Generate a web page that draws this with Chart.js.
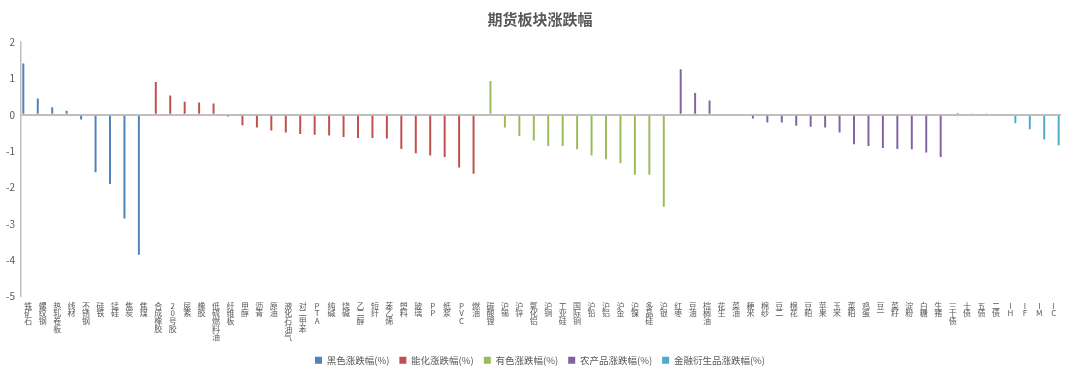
<!DOCTYPE html>
<html>
<head>
<meta charset="utf-8">
<script src="https://cdn.jsdelivr.net/npm/chart.js@4"></script>
<style>
  html, body { margin: 0; padding: 0; background: #fff; }
  #wrap { width: 1080px; height: 375px; position: relative; }
</style>
</head>
<body>
<div id="wrap"><canvas id="chart"></canvas></div>
<script>
// ---- data ----
const blackNames = ['铁矿石', '螺纹钢', '热轧卷板', '线材', '不锈钢', '硅铁', '锰硅', '焦炭', '焦煤'];
const blackVals = [1.41, 0.45, 0.21, 0.11, -0.13, -1.58, -1.90, -2.85, -3.85];

const chemNames = ['合成橡胶', '20号胶', '尿素', '橡胶', '低硫燃料油', '纤维板', '甲醇', '沥青', '原油', '液化石油气',
  '对二甲苯', 'PTA', '纯碱', '烧碱', '乙二醇', '短纤', '苯乙烯', '塑料', '玻璃', 'PP', '纸浆', 'PVC', '燃油'];
const chemVals = [0.90, 0.53, 0.36, 0.34, 0.31, -0.05, -0.29, -0.35, -0.43, -0.49,
  -0.53, -0.55, -0.57, -0.61, -0.64, -0.64, -0.65, -0.94, -1.06, -1.12, -1.16, -1.45, -1.62];

const metalNames = ['碳酸锂', '沪锡', '沪锌', '氧化铝', '沪铜', '工业硅', '国际铜', '沪铅', '沪铝', '沪金', '沪镍', '多晶硅', '沪银'];
const metalVals = [0.93, -0.35, -0.58, -0.71, -0.86, -0.86, -0.95, -1.12, -1.22, -1.33, -1.65, -1.65, -2.53];

const agriNames = ['红枣', '豆油', '棕榈油', '花生', '菜油', '粳米', '棉纱', '豆二', '棉花', '豆粕', '苹果', '玉米',
  '菜粕', '鸡蛋', '豆一', '菜籽', '淀粉', '白糖', '生猪'];
const agriVals = [1.25, 0.60, 0.39, 0, 0, -0.10, -0.21, -0.21, -0.30, -0.33, -0.35, -0.49,
  -0.81, -0.86, -0.91, -0.94, -0.95, -1.04, -1.16];

const finNames = ['三十债', '十债', '五债', '二债', 'IH', 'IF', 'IM', 'IC'];
const finVals = [0.05, 0.02, 0.02, 0, -0.23, -0.40, -0.68, -0.84];

const seriesNames = ['黑色涨跌幅(%)', '能化涨跌幅(%)', '有色涨跌幅(%)', '农产品涨跌幅(%)', '金融衍生品涨跌幅(%)'];
const seriesColors = ['#4F81BD', '#C0504D', '#9BBB59', '#8064A2', '#4BACC6'];

const yTicks = [2, 1, 0, -1, -2, -3, -4, -5];

// ---- build the table ----
const groups = [
  [blackNames, blackVals],
  [chemNames, chemVals],
  [metalNames, metalVals],
  [agriNames, agriVals],
  [finNames, finVals]
];
const allNames = [].concat(...groups.map(g => g[0]));
// labels stacked vertically, one character per line
const labels = allNames.map(n => n.split(''));

const datasets = groups.map((g, i) => {
  const data = [];
  groups.forEach((h, j) => {
    h[1].forEach(v => data.push(j === i ? v : null));
  });
  return {
    label: seriesNames[i],
    data: data,
    backgroundColor: seriesColors[i],
    borderWidth: 0,
    categoryPercentage: 0.85,
    barPercentage: 0.8
  };
});

const FONT = '"Noto Sans CJK SC", "Noto Sans", sans-serif';

new Chart(document.getElementById('chart'), {
  type: 'bar',
  data: { labels: labels, datasets: datasets },
  options: {
    responsive: true,
    maintainAspectRatio: false,
    animation: false,
    layout: { padding: { left: 0, right: 0, top: 4, bottom: 0 } },
    plugins: {
      title: {
        display: true,
        text: '期货板块涨跌幅',
        color: '#595959',
        font: { family: FONT, size: 15, weight: 'bold' },
        padding: { top: 6, bottom: 14 }
      },
      legend: {
        position: 'bottom',
        labels: {
          color: '#595959',
          font: { family: FONT, size: 9.5 },
          boxWidth: 7,
          boxHeight: 7,
          padding: 10
        }
      },
      tooltip: { enabled: false }
    },
    scales: {
      x: {
        grid: { display: false, drawTicks: false },
        border: { display: false },
        ticks: {
          autoSkip: false,
          maxRotation: 0,
          minRotation: 0,
          padding: 5,
          color: '#595959',
          font: { family: FONT, size: 8, lineHeight: 0.97 }
        }
      },
      y: {
        min: -5,
        max: 2,
        afterBuildTicks: axis => { axis.ticks = yTicks.map(v => ({ value: v })); },
        grid: {
          drawTicks: false,
          color: c => (c.tick && c.tick.value === 0 ? '#BFBFBF' : 'rgba(0,0,0,0)'),
          lineWidth: c => (c.tick && c.tick.value === 0 ? 2 : 0)
        },
        border: { display: true, color: '#BFBFBF', width: 1.5 },
        ticks: {
          padding: 6,
          color: '#595959',
          font: { family: FONT, size: 10 }
        }
      },
      // empty right-hand spacer so the plot ends where the original does
      spacer: {
        position: 'right',
        grid: { display: false },
        border: { display: false },
        ticks: { display: false },
        afterFit: axis => { axis.width = 19; }
      }
    }
  }
});
</script>
</body>
</html>
